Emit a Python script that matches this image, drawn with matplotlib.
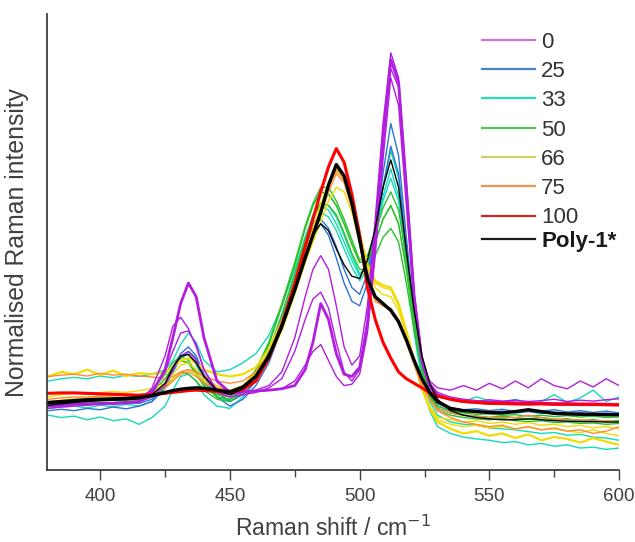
import matplotlib
matplotlib.use("Agg")
import matplotlib.pyplot as plt
from matplotlib.lines import Line2D
from matplotlib.ticker import MultipleLocator

plt.rcParams['font.family'] = ['Liberation Sans', 'DejaVu Sans']

# Raman shift grid (cm-1) shared by all spectra
shift = [380, 385, 390, 395, 400, 405, 410, 415, 420, 425,
         428, 431, 434, 437, 440, 445, 450, 455,
         460, 465, 470, 475, 479, 482, 485, 488, 491, 494, 497, 500,
         503, 506, 509, 512, 515, 518, 521, 524, 527, 530,
         535, 540, 545, 550, 555, 560, 565, 570, 575, 580, 585, 590, 595, 600]

# normalised intensities (arbitrary units)
spec_0 = [
    [14.0, 14.2, 14.4, 14.5, 14.6, 14.6, 14.8, 15.0, 17.0, 22.0,
     29.0, 36.5, 41.0, 38.0, 29.0, 19.5, 17.0, 17.2,
     17.3, 17.5, 17.8, 18.5, 22, 28, 36.5, 33, 25.5, 21, 20.5, 22.5,
     32, 50, 72, 90, 85, 62, 38, 24, 18.5, 16.5,
     15.5, 15.0, 14.8, 14.6, 14.5, 14.5, 14.4, 14.5, 14.4, 14.4, 14.3, 14.3, 14.3, 14.2],
    [13.5, 13.8, 14.0, 14.2, 14.4, 14.5, 14.6, 14.8, 18.0, 25.0,
     31.5, 33.5, 31.0, 27.0, 22.0, 17.5, 16.5, 17.0,
     17.5, 18.5, 21.5, 29, 38, 44, 47, 44, 36, 27, 23, 25,
     36, 55, 76, 91.5, 86, 63, 39, 25, 19, 17,
     16.0, 15.5, 15.2, 15.0, 15.0, 14.9, 14.8, 14.8, 14.7, 14.7, 14.6, 14.6, 14.6, 14.5],
    [14.5, 14.7, 15.0, 15.2, 15.3, 15.4, 15.5, 15.8, 17.5, 21.5,
     26.0, 30.0, 30.5, 27.5, 22.0, 17.0, 16.5, 17.0,
     17.2, 17.5, 17.8, 19.5, 23, 26, 27.5, 24, 20.5, 18.5, 18.8, 21,
     30, 47, 68, 86, 80, 58, 36, 24, 19.5, 18,
     17.5, 18.5, 17.5, 19.0, 17.8, 19.5, 18.0, 20.0, 18.5, 17.8, 19.5, 18.2, 20.0, 18.5],
    [14.2, 14.0, 14.4, 14.6, 14.3, 14.7, 14.5, 14.9, 16.0, 18.5,
     22.0, 25.0, 26.0, 24.0, 20.5, 17.0, 16.0, 16.5,
     17, 18, 20, 26, 33, 37.5, 39, 35.5, 28, 21.5, 19.5, 22,
     33, 52, 74, 88, 84, 61, 37, 23.5, 18, 16,
     15.5, 15.2, 15.0, 15.4, 15.1, 15.3, 15.0, 15.2, 15.5, 15.0, 15.3, 15.1, 15.4, 15.6],
]
spec_25 = [
    [13.0, 13.3, 13.0, 13.5, 13.2, 13.8, 13.4, 14.0, 15.0, 18.0,
     21.5, 24.5, 26.0, 24.5, 20.5, 16.0, 14.0, 15.5,
     18.5, 23.5, 31, 40, 47.5, 52, 54, 51.5, 46.5, 41, 37, 36,
     41, 52, 65, 76, 69, 51, 34, 23, 17, 14.5,
     13.5, 13.2, 13.4, 13.0, 13.3, 12.8, 13.1, 12.9, 13.2, 12.7, 13.0, 12.6, 12.9, 12.5],
    [14.0, 14.3, 14.5, 14.2, 14.6, 14.3, 14.8, 14.6, 15.5, 18.5,
     22.5, 25.5, 27.0, 25.0, 21.0, 17.0, 15.0, 16.5,
     19.5, 24.5, 32, 41, 48.5, 53, 55, 53, 49, 44, 40, 38.5,
     43, 52, 62, 71, 65, 49, 33, 22.5, 16.5, 14,
     13.0, 12.8, 13.0, 12.6, 12.9, 12.5, 12.8, 12.4, 12.7, 12.3, 12.6, 12.2, 12.5, 12.2],
]
spec_33 = [
    [19.5, 20.0, 20.3, 20.0, 20.6, 20.2, 20.8, 20.5, 21.0, 22.0,
     24.0, 27.5, 30.0, 28.0, 24.0, 21.5, 22.0, 23.5,
     25.5, 29.5, 36, 44, 51, 55.5, 58, 57, 54, 50, 46, 42.5,
     45, 52, 62, 70, 64, 48.5, 33, 23, 18, 16,
     15.5, 15.0, 16.0, 15.2, 14.8, 15.5, 14.6, 15.0, 16.5, 14.8, 15.8, 17.5, 15.0, 16.0],
    [12.0, 11.5, 11.8, 11.0, 11.6, 10.8, 11.2, 10.0, 11.5, 14.0,
     17.5, 20.5, 21.0, 19.5, 16.5, 14.0, 13.5, 16.0,
     19.5, 25, 33, 42, 49.5, 54, 56.5, 55.5, 52.5, 48.5, 44.5, 41.5,
     44, 51, 60, 66, 60, 45, 30, 19.5, 13, 9.5,
     8.0, 7.2, 6.8, 6.5, 6.0, 6.2, 5.5, 5.8, 5.2, 5.5, 4.8, 5.0, 4.5, 4.8],
    [13.5, 13.8, 14.0, 13.6, 14.2, 13.8, 14.4, 14.0, 15.0, 18.0,
     21.5, 24.5, 25.5, 23.0, 19.5, 16.0, 15.0, 17.0,
     20.5, 26, 34, 43, 51, 56, 58.5, 58, 55.5, 51.5, 47, 43,
     45, 51, 59, 64, 59, 45.5, 31.5, 21, 15, 12,
     10.5, 10.0, 9.8, 9.2, 9.0, 8.8, 8.4, 8.0, 8.2, 7.6, 7.8, 7.2, 7.0, 6.5],
]
spec_50 = [
    [14.5, 14.8, 15.0, 15.0, 15.2, 15.3, 15.3, 15.5, 17.0, 20.0,
     22.5, 24.0, 23.5, 21.0, 18.5, 16.0, 15.5, 17.5,
     21.5, 27.5, 36, 45, 53, 58, 61, 60.5, 58, 54, 49.5, 45.5,
     46, 50, 55, 58, 54, 44, 32, 22.5, 16.5, 13.5,
     12.5, 12.0, 11.8, 11.5, 11.8, 11.4, 11.2, 11.5, 11.0, 11.2, 10.8, 11.0, 10.6, 10.8],
    [14.0, 14.2, 14.4, 14.6, 14.8, 14.8, 15.0, 15.2, 16.0, 18.0,
     20.0, 21.5, 21.0, 19.5, 17.5, 15.5, 15.0, 17.0,
     20.5, 26, 34, 43, 50.5, 55.5, 58.5, 58, 56, 52, 47.5, 44,
     44, 47, 51, 53, 50, 41, 30.5, 22, 16, 13,
     12.0, 11.5, 11.2, 11.0, 11.3, 10.8, 10.6, 10.8, 10.4, 10.5, 10.2, 10.3, 10.0, 10.2],
    [14.8, 15.0, 15.2, 15.3, 15.4, 15.5, 15.6, 15.8, 17.5, 21.0,
     23.5, 25.0, 24.0, 21.5, 19.0, 16.5, 16.0, 18.0,
     22, 28, 36.5, 45.5, 53.5, 58.5, 62, 62, 59, 55, 50.5, 46,
     47, 52, 57.5, 61, 57, 46.5, 33.5, 23.5, 17, 14,
     13.0, 12.5, 12.2, 12.3, 12.0, 12.1, 11.8, 12.0, 11.7, 11.9, 11.6, 11.8, 11.5, 11.6],
]
spec_66 = [
    [20.5, 21.5, 21.0, 22.0, 20.8, 21.8, 20.6, 21.2, 21.0, 21.5,
     22.5, 24.0, 24.5, 23.5, 22.0, 21.0, 20.5, 21.0,
     22.5, 26.5, 32.5, 40, 47, 52.5, 58, 63, 66, 64.5, 59.5, 52,
     45, 41.5, 40.5, 40, 36.5, 30.5, 24, 18, 13.5, 10.5,
     9.0, 8.0, 8.5, 7.5, 8.0, 7.0, 7.8, 6.5, 7.2, 6.8, 6.0, 7.0, 6.2, 5.5],
    [16.0, 16.5, 16.8, 16.6, 17.0, 17.2, 17.0, 17.4, 17.8, 19.0,
     21.0, 23.0, 23.5, 22.0, 20.0, 18.5, 17.5, 18.0,
     20.5, 24.5, 30.5, 38.5, 45.5, 51, 57, 62.5, 65.5, 64, 59, 51.5,
     44.5, 41, 40, 39.5, 36, 30, 23.5, 17.5, 13.5, 11,
     10.0, 9.5, 9.8, 9.2, 9.5, 9.0, 9.4, 8.8, 9.0, 8.5, 8.2, 8.8, 8.0, 7.5],
    [15.0, 15.3, 15.6, 15.8, 16.0, 16.2, 16.3, 16.5, 17.0, 18.5,
     20.0, 21.5, 22.0, 21.0, 19.5, 18.0, 17.5, 18.5,
     21.5, 25.5, 31.5, 39, 45.5, 50, 54.5, 59, 62, 61, 56.5, 50,
     44, 40, 38.5, 38, 35, 29.5, 23.5, 18, 14, 11.5,
     11.0, 10.5, 10.8, 10.2, 10.5, 10.0, 10.4, 9.8, 10.0, 9.5, 9.8, 9.2, 9.5, 9.0],
]
spec_75 = [
    [20.5, 20.8, 21.0, 20.6, 21.2, 20.8, 21.0, 20.6, 20.4, 20.0,
     20.5, 21.5, 22.0, 21.5, 20.5, 19.5, 19.0, 19.5,
     21.5, 25.5, 31.5, 39, 46, 51, 56, 61, 65, 63, 57.5, 50,
     42, 37.5, 36, 35.5, 33, 28.5, 23.5, 19, 15.5, 13,
     11.5, 10.5, 10.0, 9.5, 9.8, 9.0, 9.5, 8.8, 9.2, 8.5, 8.8, 8.0, 8.5, 9.5],
    [15.5, 15.8, 16.0, 16.0, 16.2, 16.3, 16.4, 16.5, 17.0, 18.0,
     19.5, 21.0, 21.5, 20.5, 19.0, 18.0, 17.5, 18.0,
     20.5, 25, 31, 39.5, 47, 52, 57, 62, 66, 63.5, 57.5, 49.5,
     41.5, 37, 36, 35, 32.5, 28, 23, 18.5, 15.5, 13.5,
     12.5, 12.0, 11.8, 11.5, 11.5, 11.5, 12.0, 11.5, 11.2, 11.0, 11.0, 10.8, 10.8, 10.5],
]
spec_100 = [
    [16.8, 16.9, 16.9, 16.8, 16.7, 16.6, 16.5, 16.4, 16.5, 16.8,
     17.0, 17.2, 17.4, 17.5, 17.4, 17.2, 17.0, 17.6,
     19.5, 24.5, 32, 41, 49, 55, 61, 66.5, 70.5, 67.5, 60.5, 51.5,
     40, 33, 28, 24.5, 21.5, 20, 19, 18, 17, 16.2,
     15.5, 15.0, 14.8, 14.6, 14.6, 14.5, 14.5, 14.5, 14.4, 14.4, 14.4, 14.4, 14.3, 14.3],
]
spec_poly = [
    [14.8, 15.0, 15.2, 15.4, 15.5, 15.6, 15.7, 15.9, 16.3, 17.0,
     17.4, 17.7, 17.9, 18.0, 17.9, 17.5, 17.1, 18.2,
     20.5, 25, 31.5, 39.5, 46.5, 51.5, 56.5, 62.5, 67.0, 64.5, 58.5, 50.5,
     42, 38, 36.5, 35, 32.5, 28.5, 24, 20, 17, 15,
     13.5, 13.0, 12.8, 12.6, 12.5, 12.8, 13.2, 12.8, 12.4, 12.3, 12.2, 12.2, 12.1, 12.1],
    [14.2, 14.5, 14.8, 15.0, 15.2, 15.3, 15.4, 15.6, 16.5, 19.0,
     22.5, 25.0, 25.3, 23.5, 20.5, 17.5, 16.5, 17.8,
     20.5, 24.5, 31, 40, 47, 51.5, 54, 52.5, 48.5, 45, 42.5, 42,
     46, 53, 62, 68, 62, 48, 35, 25, 19, 15.5,
     13.0, 12.0, 11.5, 11.2, 11.0, 11.0, 11.2, 11.0, 10.8, 10.7, 10.6, 10.6, 10.5, 10.5],
]

labels = ['0', '25', '33', '50', '66', '75', '100', 'Poly-1*']
line_colors = ['#b21ee0', '#2a74d2', '#12dcb8', '#2cc22c', '#f0dc00', '#ff8a3a', '#ff0000', '#000000']
legend_colors = ['#c878dc', '#4a82c4', '#28e0b4', '#58c258', '#d8cc64', '#f09458', '#d42424', '#1a1a1a']
groups = [spec_0, spec_25, spec_33, spec_50, spec_66, spec_75, spec_100, spec_poly]
widths = [[2.0, 1.0, 1.0, 1.0], [1.0, 1.0], [1.0, 1.0, 1.0], [1.2, 1.0, 1.0],
          [1.6, 1.0, 1.0], [1.0, 1.0], [2.2], [2.4, 1.0]]

fig = plt.figure(figsize=(6.35, 5.42), dpi=100)
ax = fig.add_axes([0.074, 0.133, 0.901, 0.841])

# draw order: cyan, blue, green, yellow, orange, purple, red, black
for gi in [2, 1, 3, 4, 5, 0, 6, 7]:
    for spec, lw in zip(groups[gi], widths[gi]):
        ax.plot(shift, spec, color=line_colors[gi], lw=lw)

ax.set_xlim(379.5, 600)
ax.set_ylim(0, 100)
ax.xaxis.set_major_locator(MultipleLocator(50))
ax.xaxis.set_minor_locator(MultipleLocator(25))
ax.tick_params(axis='x', which='major', length=7, width=1, colors='#404040', labelsize=13.5, pad=6)
ax.tick_params(axis='x', which='minor', length=5, width=1, colors='#404040')
ax.set_yticks([])
ax.spines['top'].set_visible(False)
ax.spines['right'].set_visible(False)
for s in ['left', 'bottom']:
    ax.spines[s].set_color('#303030')
    ax.spines[s].set_linewidth(1.2)

ax.set_xlabel('Raman shift / cm$^{-1}$', fontsize=16.5, color='#404040', labelpad=8)
ax.set_ylabel('Normalised Raman intensity', fontsize=17.8, color='#404040')
ax.yaxis.set_label_coords(-0.032, 0.5)

# legend: first seven entries evenly spaced, Poly-1* a little closer below
handles = [Line2D([], [], color=c, lw=1.6) for c in legend_colors]
leg = ax.legend(handles[:7], labels[:7], loc='upper left', bbox_to_anchor=(0.745, 0.981),
                frameon=False, fontsize=16, handlelength=2.4, handletextpad=0.25,
                labelspacing=0.373, borderaxespad=0)
for t in leg.get_texts():
    t.set_color('#333333')
ax.add_artist(leg)
leg2 = ax.legend(handles[7:], labels[7:], loc='upper left', bbox_to_anchor=(0.745, 0.544),
                 frameon=False, handlelength=2.4, handletextpad=0.25, borderaxespad=0,
                 prop={'size': 16, 'weight': 'bold'})
leg2.get_texts()[0].set_color('#1a1a1a')

fig.savefig('out.png', dpi=100)
